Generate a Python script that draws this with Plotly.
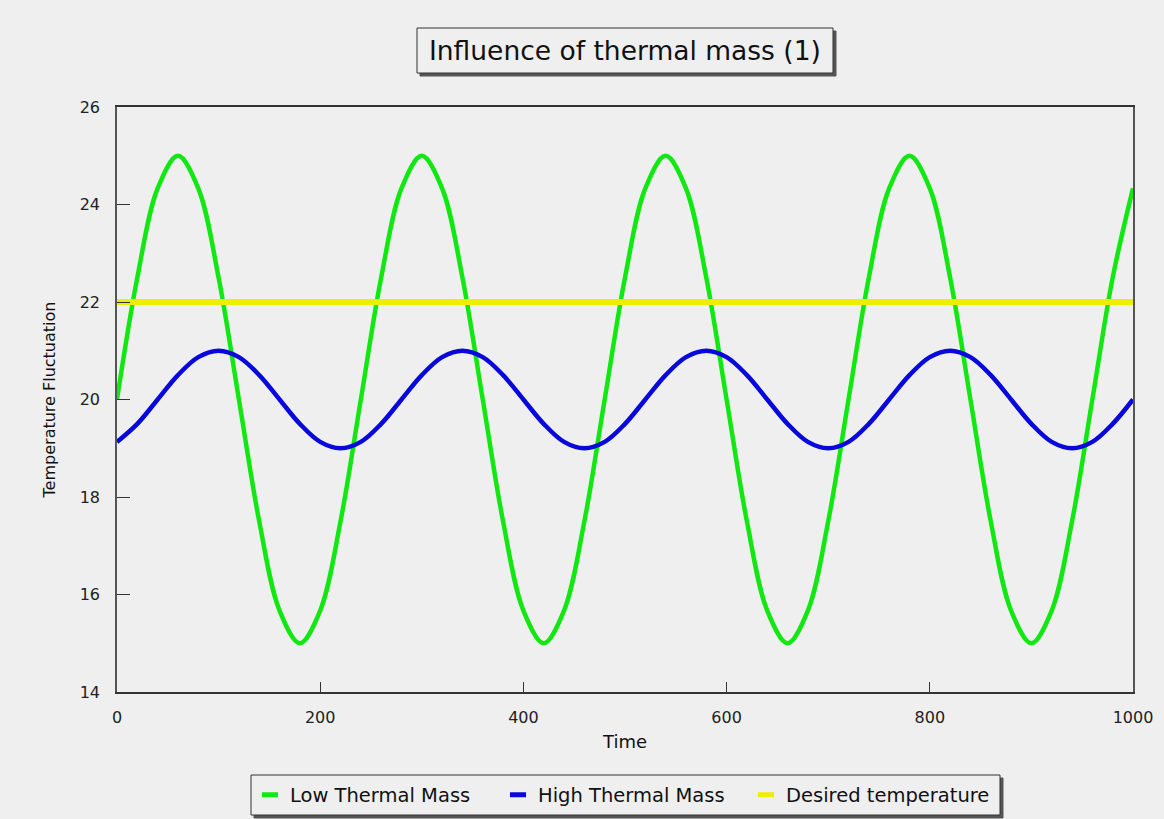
import plotly.graph_objects as go

# ---- data ----
time = [0, 20, 40, 60, 80, 100, 120, 140, 160, 180, 200, 220,
        240, 260, 280, 300, 320, 340, 360, 380, 400, 420, 440, 460,
        480, 500, 520, 540, 560, 580, 600, 620, 640, 660, 680, 700,
        720, 740, 760, 780, 800, 820, 840, 860, 880, 900, 920, 940,
        960, 980, 1000]

low_thermal_mass = [20.0, 22.5, 24.33, 25.0, 24.33, 22.5, 20.0, 17.5, 15.67, 15.0, 15.67, 17.5,
                    20.0, 22.5, 24.33, 25.0, 24.33, 22.5, 20.0, 17.5, 15.67, 15.0, 15.67, 17.5,
                    20.0, 22.5, 24.33, 25.0, 24.33, 22.5, 20.0, 17.5, 15.67, 15.0, 15.67, 17.5,
                    20.0, 22.5, 24.33, 25.0, 24.33, 22.5, 20.0, 17.5, 15.67, 15.0, 15.67, 17.5,
                    20.0, 22.5, 24.33]

high_thermal_mass = [19.13, 19.5, 20.0, 20.5, 20.87, 21.0, 20.87, 20.5, 20.0, 19.5, 19.13, 19.0,
                     19.13, 19.5, 20.0, 20.5, 20.87, 21.0, 20.87, 20.5, 20.0, 19.5, 19.13, 19.0,
                     19.13, 19.5, 20.0, 20.5, 20.87, 21.0, 20.87, 20.5, 20.0, 19.5, 19.13, 19.0,
                     19.13, 19.5, 20.0, 20.5, 20.87, 21.0, 20.87, 20.5, 20.0, 19.5, 19.13, 19.0,
                     19.13, 19.5, 20.0]

desired_time = [0, 1000]
desired_temperature = [22, 22]

x_ticks = [0, 200, 400, 600, 800, 1000]
y_ticks = [14, 16, 18, 20, 22, 24, 26]

series_names = ["Low Thermal Mass", "High Thermal Mass", "Desired temperature"]
series_colors = ["#11e811", "#0808dc", "#eeee00"]

title_text = "Influence of thermal mass (1)"
x_title = "Time"
y_title = "Temperature Fluctuation"

BG = "#efefef"
FONT = "DejaVu Sans, Verdana, sans-serif"

W, H = 1164, 819
ML, MR, MT, MB = 117, 31, 107, 127
PH = H - MT - MB          # plot height in px
PW = W - ML - MR          # plot width in px
PLOT_BOTTOM = H - MB

fig = go.Figure()
fig.add_trace(go.Scatter(x=time, y=low_thermal_mass, mode="lines", name=series_names[0],
                         showlegend=False,
                         line=dict(color=series_colors[0], width=4.5, shape="spline")))
fig.add_trace(go.Scatter(x=time, y=high_thermal_mass, mode="lines", name=series_names[1],
                         showlegend=False,
                         line=dict(color=series_colors[1], width=4.5, shape="spline")))
fig.add_trace(go.Scatter(x=desired_time, y=desired_temperature, mode="lines", name=series_names[2],
                         showlegend=False,
                         line=dict(color=series_colors[2], width=6)))

# legend entries drawn as short dashes (like the reference)
for name, color in zip(series_names, series_colors):
    fig.add_trace(go.Scatter(x=[None], y=[None], mode="markers", name=name,
                             marker=dict(symbol="line-ew", size=11.5,
                                         line=dict(color=color, width=5))))

# title box (with shadow) as shapes, title text as annotation
title_y = (PLOT_BOTTOM - 50.5) / PH
for dx, fill, lc in [(3, "#555555", "#555555"), (0, BG, "#333333")]:
    fig.add_shape(type="rect", xref="paper", yref="paper",
                  xsizemode="pixel", ysizemode="pixel", xanchor=0.5, yanchor=title_y,
                  x0=-208 + dx, x1=208 + dx, y0=-22.5 - dx, y1=22.5 - dx,
                  fillcolor=fill, line=dict(color=lc, width=1), layer="below")
fig.add_annotation(text=title_text, xref="paper", yref="paper", x=0.5, y=title_y,
                   xanchor="center", yanchor="middle", showarrow=False,
                   font=dict(family=FONT, size=26.5, color="#111111"))

# legend box (with shadow)
leg_cx = ((251 + 1000) / 2 - ML) / PW
leg_cy = (PLOT_BOTTOM - 795) / PH
for dx, fill, lc in [(3, "#555555", "#555555"), (0, BG, "#333333")]:
    fig.add_shape(type="rect", xref="paper", yref="paper",
                  xsizemode="pixel", ysizemode="pixel", xanchor=leg_cx, yanchor=leg_cy,
                  x0=-374.5 + dx, x1=374.5 + dx, y0=-20 - dx, y1=20 - dx,
                  fillcolor=fill, line=dict(color=lc, width=1), layer="below")

fig.update_layout(
    width=W, height=H,
    paper_bgcolor=BG, plot_bgcolor=BG,
    margin=dict(l=ML, r=MR, t=MT, b=MB, autoexpand=False),
    font=dict(family=FONT, color="#222222"),
    showlegend=True,
    legend=dict(orientation="h", xref="container", yref="container",
                x=250 / W, xanchor="left", y=1 - 795 / H, yanchor="middle",
                bgcolor="rgba(0,0,0,0)", borderwidth=0,
                font=dict(family=FONT, size=19.5, color="#111111"),
                itemwidth=30, traceorder="normal", itemsizing="trace",
                entrywidth=203, entrywidthmode="pixels"),
    xaxis=dict(range=[0, 1000], tickvals=x_ticks, ticks="inside", ticklen=10, tickcolor="#333333",
               showline=True, linecolor="#333333", linewidth=1.5, mirror=True, automargin=False,
               showgrid=False, zeroline=False, ticklabelstandoff=10,
               tickfont=dict(family=FONT, size=16, color="#222222"),
               title=dict(text=x_title, font=dict(family=FONT, size=18, color="#111111"), standoff=9)),
    yaxis=dict(range=[14, 26], tickvals=y_ticks, ticks="inside", ticklen=13, tickcolor="#333333",
               showline=True, linecolor="#555555", linewidth=1.5, mirror=True, automargin=False,
               showgrid=False, zeroline=False, ticklabelstandoff=12,
               tickfont=dict(family=FONT, size=16, color="#222222"),
               title=dict(text=y_title, font=dict(family=FONT, size=16, color="#111111"), standoff=20)),
)

fig.write_html("out.html", config={"displayModeBar": False},
               post_script="document.body.style.margin='0';"
                           "document.body.style.background='#efefef';"
                           "document.documentElement.style.background='#efefef';")
